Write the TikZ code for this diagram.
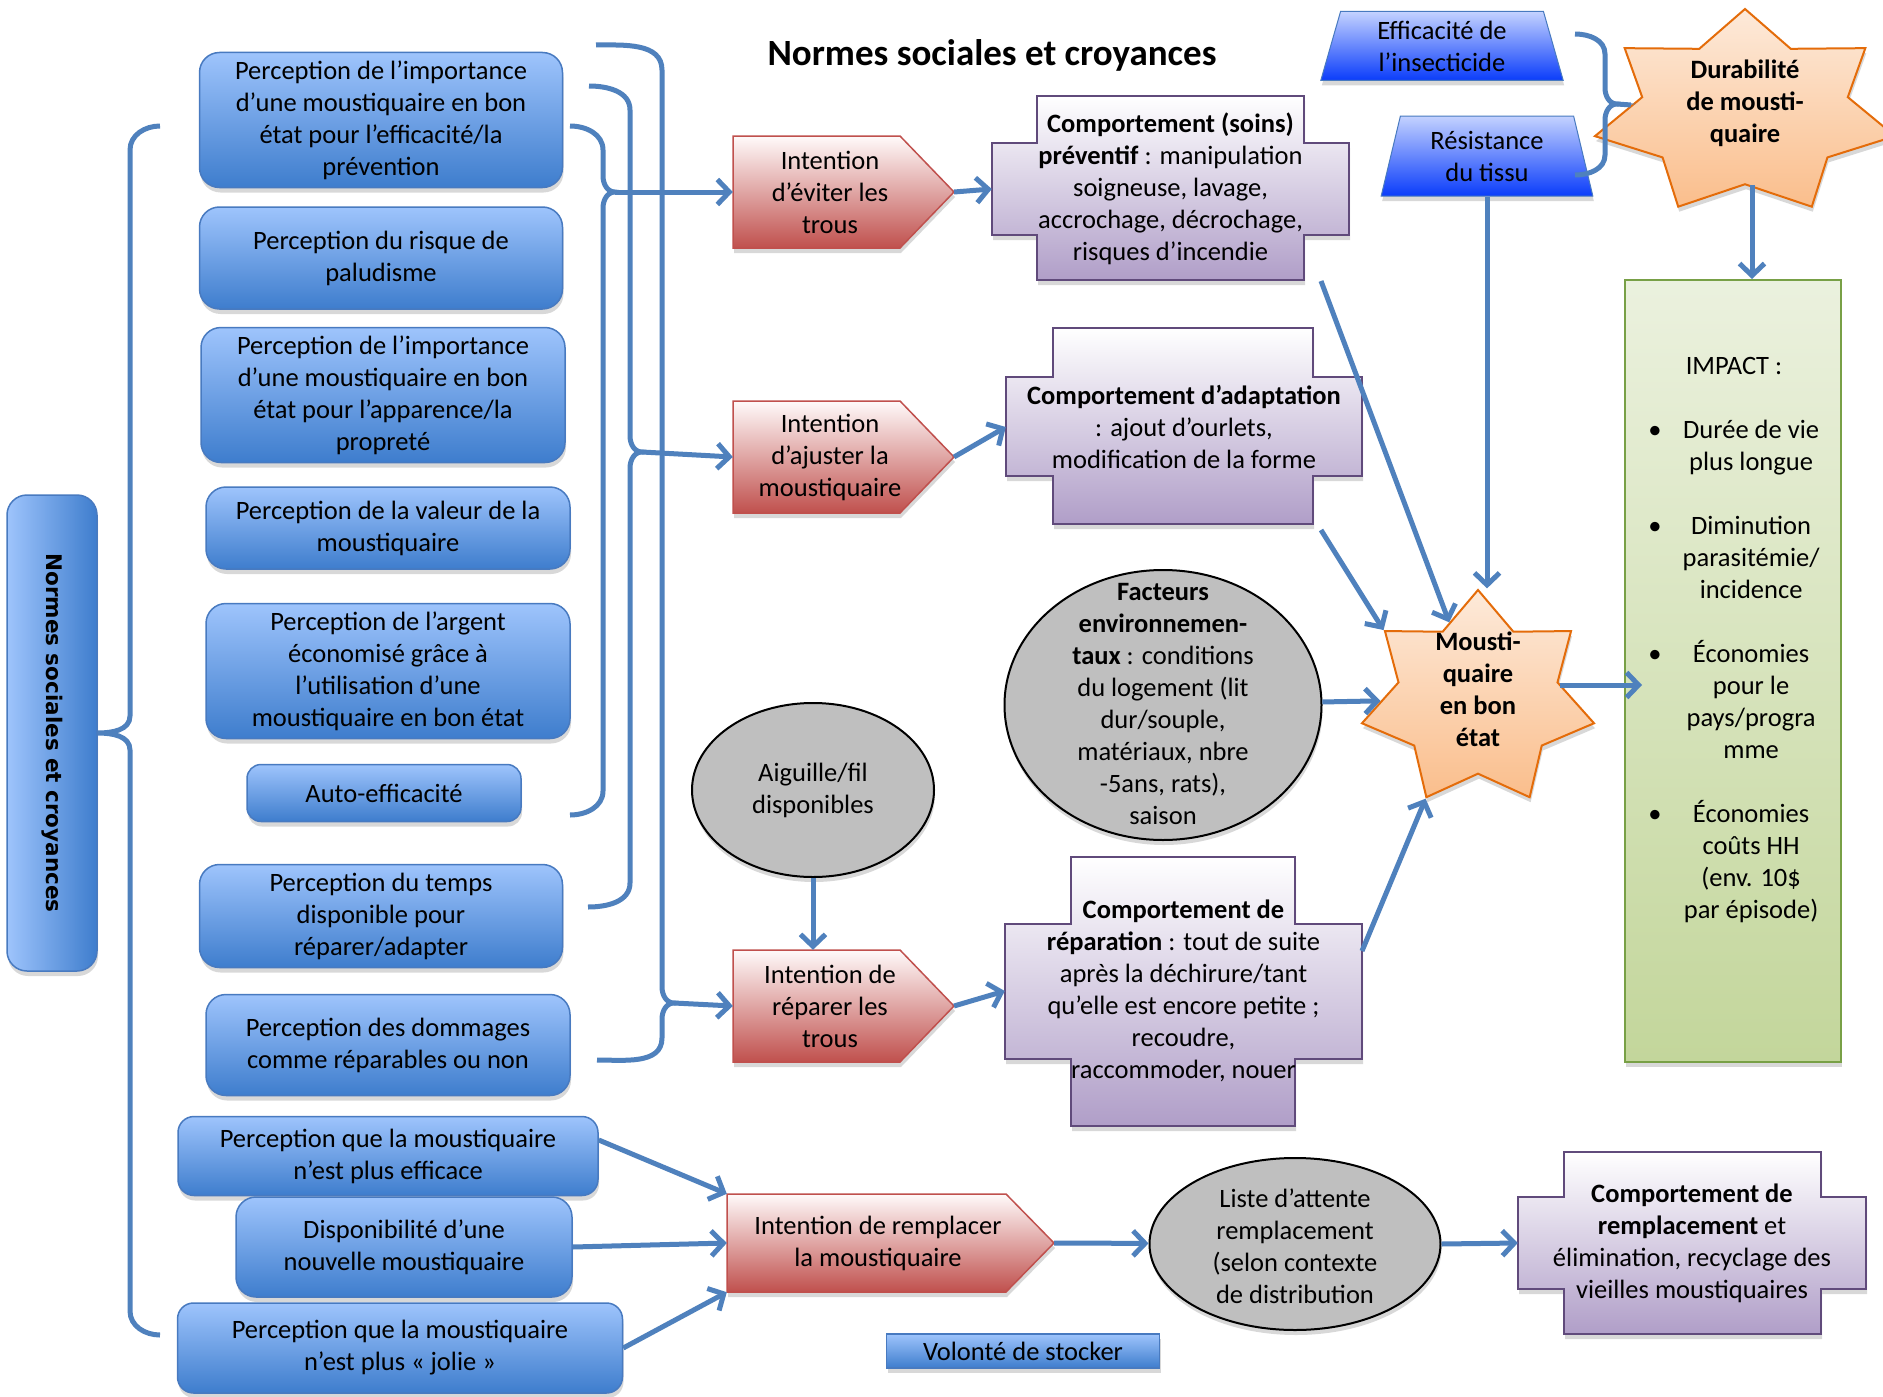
\documentclass[tikz,border=0pt]{standalone}
\usepackage{fontspec}
\setmainfont{Carlito}
\newfontfamily\sidefont{DejaVu Sans}
\usepackage{tikz}
\usetikzlibrary{shapes, arrows.meta, positioning, shadows}

\definecolor{lineblue}{RGB}{79,129,189}
\definecolor{boxtop}{RGB}{158,196,252}
\definecolor{boxbot}{RGB}{62,125,205}
\definecolor{boxedge}{RGB}{72,122,192}
\definecolor{trtop}{RGB}{196,210,255}
\definecolor{trbot}{RGB}{10,60,250}
\definecolor{redtop}{RGB}{255,250,250}
\definecolor{redbot}{RGB}{192,80,77}
\definecolor{purbot}{RGB}{176,158,200}
\definecolor{puredge}{RGB}{96,74,123}
\definecolor{ortop}{RGB}{253,234,218}
\definecolor{orbot}{RGB}{250,190,140}
\definecolor{oredge}{RGB}{228,108,10}
\definecolor{grtop}{RGB}{235,241,222}
\definecolor{grbot}{RGB}{195,214,155}
\definecolor{gredge}{RGB}{120,160,70}

\begin{document}
\begin{tikzpicture}[
        x=1pt, y=-1pt,
        every node/.style={font=\fontsize{26.5}{32}\selectfont, align=center, inner sep=0pt},
        arr/.style={draw=lineblue, line width=5pt, -{Straight Barb[length=12pt, width=25pt]}},
        curlyline/.style={draw=lineblue, line width=5pt},
        boxshadow/.style={drop shadow={opacity=0.3, shadow xshift=1pt, shadow yshift=-5pt}},
        percbox/.style={draw=boxedge, line width=1.5pt, rounded corners=20pt, top color=boxtop, bottom color=boxbot, boxshadow},
        normbox/.style={draw=boxedge, line width=1.5pt, rounded corners=20pt, left color=boxtop, right color=boxbot, boxshadow, font=\sidefont\bfseries\fontsize{21.5}{26}\selectfont},
        trapbox/.style={trapezium, trapezium left angle=76, trapezium right angle=76, trapezium stretches=true, draw=boxedge, line width=1pt, top color=trtop, bottom color=trbot, boxshadow},
        intentshape/.style={draw=redbot, line width=1.5pt, top color=redtop, bottom color=redbot, boxshadow},
        crossshape/.style={draw=puredge, line width=2pt, top color=white, bottom color=purbot, boxshadow},
        ovalbox/.style={ellipse, draw=black, line width=2pt, fill=black!25, boxshadow},
        starbox/.style={star, star points=7, star point ratio=1.46, draw=oredge, line width=2pt, top color=ortop, bottom color=orbot, boxshadow},
        impactbox/.style={draw=gredge, line width=2pt, top color=grtop, bottom color=grbot, boxshadow},
        bold/.style={font=\bfseries\fontsize{26.5}{32}\selectfont}
    ]
    \useasboundingbox (0,0) rectangle (1883,1397);
    \fill[white] (0,0) rectangle (1883,1397);

    % --- Title ---
    \node[font=\bfseries\fontsize{37}{44}\selectfont] (title) at (992,55) {Normes sociales et croyances};

    % --- Perceptions (left column) ---
    \node[percbox, minimum width=363, minimum height=135] (effic) at (381,120) {Perception de l’importance\\d’une moustiquaire en bon\\état pour l’efficacité/la\\prévention};
    \node[percbox, minimum width=363, minimum height=102] (palu) at (381,258) {Perception du risque de\\paludisme};
    \node[percbox, minimum width=364, minimum height=135] (appar) at (383,395) {Perception de l’importance\\d’une moustiquaire en bon\\état pour l’apparence/la\\propreté};
    \node[percbox, minimum width=364, minimum height=82] (valeur) at (388,528) {Perception de la valeur de la\\moustiquaire};
    \node[percbox, minimum width=364, minimum height=135] (argent) at (388,671) {Perception de l’argent\\économisé grâce à\\l’utilisation d’une\\moustiquaire en bon état};
    \node[percbox, minimum width=274, minimum height=57, rounded corners=14pt] (auto) at (384,793) {Auto-efficacité};
    \node[percbox, minimum width=363, minimum height=103] (temps) at (381,916) {Perception du temps\\disponible pour\\réparer/adapter};
    \node[percbox, minimum width=364, minimum height=101] (dommage) at (388,1045) {Perception des dommages\\comme réparables ou non};
    \node[percbox, minimum width=420, minimum height=79, rounded corners=16pt] (plusefficace) at (388,1156) {Perception que la moustiquaire\\n’est plus efficace};
    \node[percbox, minimum width=336, minimum height=100] (nouvelle) at (404,1247) {Disponibilité d’une\\nouvelle moustiquaire};
    \node[percbox, minimum width=445, minimum height=90, rounded corners=16pt] (jolie) at (400,1348) {Perception que la moustiquaire\\n’est plus « jolie »};
    \node[percbox, sharp corners, minimum width=273, minimum height=34] (stocker) at (1023,1351) {Volonté de stocker};

    % --- Normes sociales (rotated) ---
    \node[normbox, rotate=-90, minimum width=476, minimum height=90] (normes) at (52,733) {Normes sociales et croyances};

    % --- Intentions ---
    \draw[intentshape] (733,136) -- (900,136) -- (954,192) -- (900,248) -- (733,248) -- cycle;
    \node[minimum width=194, minimum height=112] (eviter) at (830,192) {Intention\\d’éviter les\\trous};
    \coordinate (eviterpt) at (954,192);
    \draw[intentshape] (733,401) -- (900,401) -- (954,457) -- (900,513) -- (733,513) -- cycle;
    \node[minimum width=194, minimum height=112] (ajuster) at (830,457) {Intention\\d’ajuster la\\moustiquaire};
    \coordinate (ajusterpt) at (954,457);
    \draw[intentshape] (733,950) -- (900,950) -- (954,1006) -- (900,1062) -- (733,1062) -- cycle;
    \node[minimum width=194, minimum height=112] (reparer) at (830,1006) {Intention de\\réparer les\\trous};
    \coordinate (reparerpt) at (954,1006);
    \draw[intentshape] (727,1194) -- (1006,1194) -- (1054,1243) -- (1006,1292) -- (727,1292) -- cycle;
    \node[minimum width=302, minimum height=98] (remplacer) at (878,1243) {Intention de remplacer\\la moustiquaire};
    \coordinate (remplacerpt) at (1054,1243);

    % --- Comportements (crosses) ---
    \draw[crossshape] (1037,96) -| (1304,143) -| (1349,235) -| (1304,280) -| (1037,235) -| (992,143) -- (1037,143) -- cycle;
    \node[minimum width=357, minimum height=92] (soins) at (1170.5,189) {\textbf{Comportement (soins)}\\\textbf{préventif} : manipulation\\soigneuse, lavage,\\accrochage, décrochage,\\risques d’incendie};
    \draw[crossshape] (1053,328) -| (1313,377) -| (1362,476) -| (1313,524) -| (1053,476) -| (1006,377) -- (1053,377) -- cycle;
    \node[minimum width=356, minimum height=99] (adapt) at (1184,427) {\textbf{Comportement d’adaptation}\\: ajout d’ourlets,\\modification de la forme};
    \draw[crossshape] (1071,857) -| (1295,924) -| (1362,1059) -| (1295,1126) -| (1071,1059) -| (1005,924) -- (1071,924) -- cycle;
    \node[minimum width=357, minimum height=135] (reparation) at (1183.5,991) {\textbf{Comportement de}\\\textbf{réparation} : tout de suite\\après la déchirure/tant\\qu’elle est encore petite ;\\recoudre,\\raccommoder, nouer};
    \draw[crossshape] (1564,1152) -| (1821,1197) -| (1866,1289) -| (1821,1334) -| (1564,1289) -| (1518,1197) -- (1564,1197) -- cycle;
    \node[minimum width=348, minimum height=92] (elimination) at (1692,1243) {\textbf{Comportement de}\\\textbf{remplacement} et\\élimination, recyclage des\\vieilles moustiquaires};

    % --- Ellipses ---
    \node[ovalbox, minimum width=317, minimum height=270] (facteurs) at (1163,705) {};
    \node (facteurstxt) at (1163,704) {\textbf{Facteurs}\\\textbf{environnemen-}\\\textbf{taux} : conditions\\du logement (lit\\dur/souple,\\matériaux, nbre\\-5ans, rats),\\saison};
    \node[ovalbox, minimum width=242, minimum height=174] (aiguille) at (813,790) {Aiguille/fil\\disponibles};
    \node[ovalbox, minimum width=291, minimum height=172] (attente) at (1295,1244) {};
    \node (attentetxt) at (1295,1246) {Liste d’attente\\remplacement\\(selon contexte\\de distribution};

    % --- Efficacite / Resistance ---
    \node[trapbox, minimum width=243, minimum height=69] (insect) at (1442,46) {Efficacité de\\l’insecticide};
    \node[trapbox, minimum width=212, minimum height=80] (tissu) at (1487,156) {Résistance\\du tissu};

    % --- Stars ---
    \node[starbox, minimum size=218, xscale=1.092] (bonetat) at (1478,699) {};
    \node[bold] (bontxt) at (1478,689) {Mousti-\\quaire\\en bon\\état};
    \node[starbox, minimum size=208, xscale=1.48] (durab) at (1745,113) {};
    \node[bold] (durabtxt) at (1745,103.5) {Durabilité\\de mousti-\\quaire};

    % --- Impact ---
    \node[impactbox, minimum width=216, minimum height=782] (impact) at (1733,671) {};
    \node[anchor=north] (impacttxt) at (1734,352) {\begin{tabular}{@{}c@{\hspace{21pt}}c@{}}
        \multicolumn{2}{c}{IMPACT :}\\ \\
        •&Durée de vie\\ &plus longue\\ \\
        •&Diminution\\ &parasitémie/\\ &incidence\\ \\
        •&Économies\\ &pour le\\ &pays/progra\\ &mme\\ \\
        •&Économies\\ &coûts HH\\ &(env. 10\$\\ &par épisode)
    \end{tabular}};

    % --- Braces ---
    \coordinate (tipA) at (615,192);
    \coordinate (tipB) at (642,452);
    \coordinate (tipC) at (674,1003);
    \coordinate (tipD) at (1617,104);
    \draw[curlyline] (160,126) to[out=180,in=90] (130,150) -- (130,716) to[out=-90,in=0] (normes.north) to[out=0,in=90] (130,750) -- (130,1311) to[out=-90,in=180] (160,1335);
    \draw[curlyline] (570,126) to[out=0,in=90] (603,150) -- (603,176) to[out=-90,in=180] (tipA) to[out=180,in=90] (603,208) -- (603,791) to[out=-90,in=0] (570,815);
    \draw[curlyline] (589,86) to[out=0,in=90] (630,110) -- (630,436) to[out=-90,in=180] (tipB) to[out=180,in=90] (630,468) -- (630,883) to[out=-90,in=0] (588,907);
    \draw[curlyline] (596,45) to[out=0,in=90] (662,70) -- (662,987) to[out=-90,in=180] (tipC) to[out=180,in=90] (662,1019) -- (662,1038) to[out=-90,in=0] (597,1060);
    \draw[curlyline] (1575,34) to[out=0,in=90] (1605,54) -- (1605,88) to[out=-90,in=180] (tipD) to[out=180,in=90] (1605,120) -- (1605,155) to[out=-90,in=0] (1575,175);
    \draw[curlyline] (tipD) -- (durab);

    % --- Arrows ---
    \draw[arr] (tipA) -- (eviter.west);
    \draw[arr] (tipB) -- (ajuster.west);
    \draw[arr] (tipC) -- (reparer.west);
    \draw[arr] (eviterpt) -- (soins.west);
    \draw[arr] (ajusterpt) -- (adapt.west);
    \draw[arr] (reparerpt) -- (reparation.west);
    \draw[arr] (aiguille.south) -- (aiguille.south |- reparer.north);
    \draw[arr] ([yshift=16pt]plusefficace.east) -- (remplacer.north west);
    \draw[arr] (nouvelle.east) -- (remplacer.west);
    \draw[arr] (jolie.east) -- (remplacer.south west);
    \draw[arr] (remplacerpt) -- (attente);
    \draw[arr] (attente.east) -- (elimination.west);

    \coordinate (soinsout) at (1321,281);
    \coordinate (adaptout) at (1321,530);
    \coordinate (reparout) at (1362,951);
    \coordinate (bonout) at (1560,685);
    \draw[arr] (soinsout) -- (bonetat);
    \draw[arr] (adaptout) -- (bonetat.outer point 2);
    \draw[arr] (tissu.south) -- (tissu.south |- bonetat.outer point 1);
    \draw[arr] (facteurs) -- (bonetat);
    \draw[arr] (reparout) -- (bonetat.outer point 4);
    \draw[arr] (bonout) -- ([xshift=18pt]impact.west |- bonout);
    \draw[arr] ([xshift=7pt]durab.south) -- ([xshift=7pt]durab.south |- impact.north);
\end{tikzpicture}
\end{document}
